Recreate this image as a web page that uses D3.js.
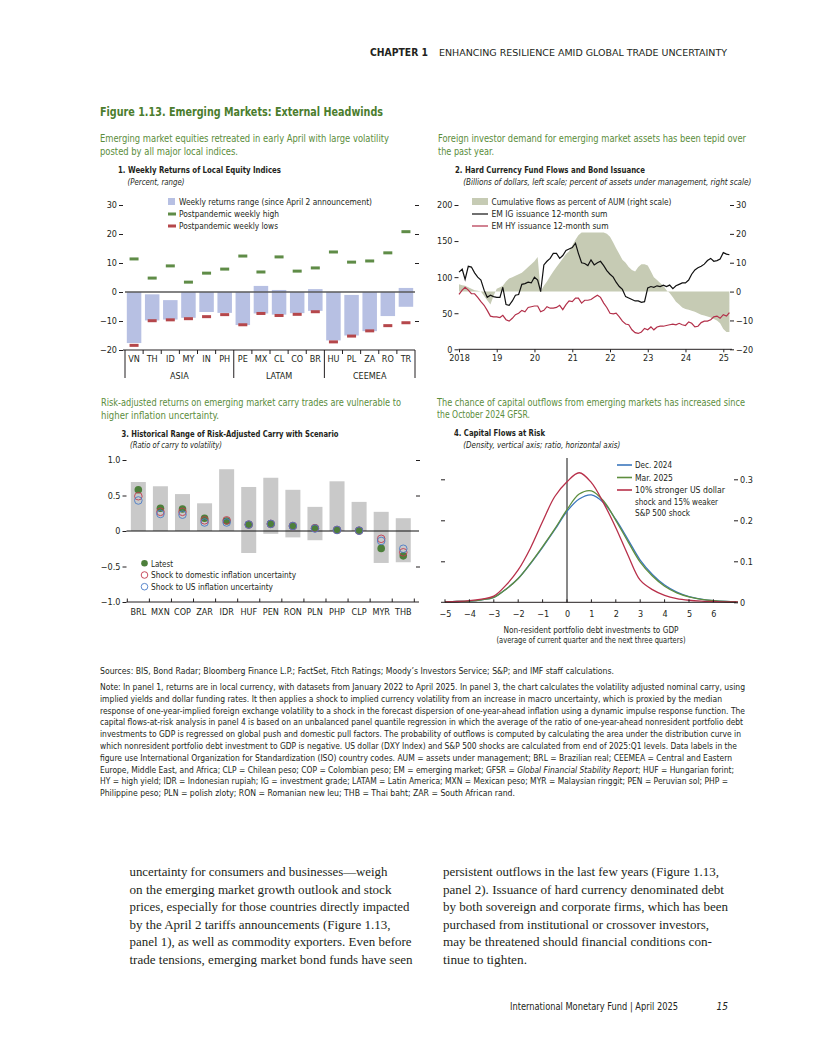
<!DOCTYPE html>
<html>
<head>
<meta charset="utf-8">
<script src="https://cdn.jsdelivr.net/npm/d3@7"></script>
<style>
body { margin: 0; background: #fff; }
svg { display: block; }
</style>
</head>
<body>
<svg width="816" height="1056"></svg>
<script>
// ---------- data ----------
// panel 1
const p1Countries = ['VN', 'TH', 'ID', 'MY', 'IN', 'PH', 'PE', 'MX', 'CL', 'CO', 'BR', 'HU', 'PL', 'ZA', 'RO', 'TR'];
const p1Groups = ['ASIA', 'LATAM', 'CEEMEA'];
const p1GroupSize = [6, 5, 5];
const p1RangeTop = [0, -0.8, -2.8, 0, 0, 0, 0, 2.1, 0.7, 0, 1.0, 0, -1.0, 0, 0, 1.4];
const p1RangeBottom = [-17.6, -9.8, -9.5, -8.9, -6.9, -7.2, -11.4, -7.4, -7.8, -7.3, -6.5, -16.7, -15.0, -13.5, -8.3, -5.1];
const p1High = [11.4, 4.8, 9.0, 3.4, 6.5, 7.9, 12.4, 6.9, 12.1, 7.2, 8.3, 13.8, 10.3, 10.7, 13.5, 20.8];
const p1Low = [-18.4, -9.9, -9.6, -9.2, -8.5, -7.8, -11.3, -7.4, -8.1, -7.7, -6.8, -17.2, -15.2, -13.4, -11.6, -10.6];
const p1Ticks = [-20, -10, 0, 10, 20, 30];

// panel 2 (monthly, Jan 2018 - Mar 2025)
const p2Start = new Date(2018, 0, 1);
const p2IG = [
    107, 111, 97, 115, 114, 106, 100, 96, 82, 72, 75, 73,
    72, 72, 86, 62, 61, 67, 75, 76, 90, 91, 93, 92,
    100, 96, 80, 117, 122, 126, 133, 133, 126, 130, 137, 139,
    141, 147, 133, 120, 119, 116, 124, 117, 120, 122, 116, 109,
    104, 100, 93, 87, 83, 73, 71, 69, 67, 67, 65, 66,
    85, 87, 86, 88, 87, 89, 87, 89, 84, 88, 90, 92,
    92, 96, 104, 110, 113, 115, 118, 123, 126, 122, 123, 125,
    134, 132, 131
];
const p2HY = [
    76, 82, 86, 82, 77, 77, 72, 66, 61, 54, 46, 45,
    45, 44, 47, 41, 39, 43, 48, 50, 54, 52, 58, 59,
    60, 60, 52, 54, 59, 57, 57, 58, 61, 55, 62, 67,
    66, 71, 71, 64, 68, 68, 69, 72, 75, 72, 64, 58,
    50, 49, 50, 45, 39, 35, 34, 27, 23, 22, 24, 29,
    27, 31, 27, 31, 32, 32, 33, 34, 35, 34, 36, 34,
    33, 38, 36, 31, 32, 37, 39, 39, 41, 45, 46, 43,
    48, 46, 51
];
const p2Flows = [
    2.5, 2.2, 2.0, 1.5, 1.0, 0.5, 0.3, 0, -1.5, -3, -4.5, -1.5,
    1, 1.5, 2, 3.5, 4.5, 5, 5.5, 6, 6.5, 7.5, 8.5, 9.5,
    10.5, 12, 0, 2, 3.5, 5.3, 7, 8.5, 10, 11.5, 13, 14,
    16, 18, 19.5, 20.5, 20.5, 20.5, 20.5, 20.5, 20.5, 20.5, 20.5, 20,
    19, 17, 15, 13, 11, 10, 8.5, 7.5, 7, 8.5, 9.5, 9.5,
    9, 7, 5, 4, 3, 2, 0.5, -0.5, -2, -3.5, -4.5, -5.5,
    -6, -6.3, -6.6, -7, -7.5, -8, -8.3, -8.6, -9, -9.5, -10, -11,
    -13, -14, -14
];
const p2YearLabels = ['2018', '19', '20', '21', '22', '23', '24', '25'];
const p2LeftTicks = [0, 50, 100, 150, 200];
const p2RightTicks = [-20, -10, 0, 10, 20, 30];

// panel 3
const p3Currencies = ['BRL', 'MXN', 'COP', 'ZAR', 'IDR', 'HUF', 'PEN', 'RON', 'PLN', 'PHP', 'CLP', 'MYR', 'THB'];
const p3RangeTop = [0.69, 0.63, 0.52, 0.39, 0.87, 0.62, 0.75, 0.58, 0.34, 0.70, 0.41, 0.27, 0.18];
const p3RangeBottom = [0, 0, 0, 0, 0, -0.31, -0.04, -0.09, -0.13, 0, 0, -0.45, -0.44];
const p3Latest = [0.58, 0.32, 0.31, 0.18, 0.14, 0.09, 0.10, 0.07, 0.04, 0.015, 0.005, -0.245, -0.35];
const p3Domestic = [0.49, 0.27, 0.27, 0.15, 0.15, 0.09, 0.10, 0.07, 0.04, 0.015, 0.005, -0.11, -0.30];
const p3US = [0.43, 0.24, 0.23, 0.12, 0.12, 0.09, 0.10, 0.07, 0.035, 0.015, 0.005, -0.14, -0.25];
const p3Ticks = [-1, -0.5, 0, 0.5, 1];

// panel 4
const p4X = [-5, -4.5, -4, -3.5, -3, -2.5, -2, -1.5, -1, -0.5, 0, 0.5, 1, 1.5, 2, 2.5, 3, 3.5, 4, 4.5, 5, 5.5, 6, 6.5, 7];
const p4Dec24 = [0.001, 0.002, 0.003, 0.006, 0.012, 0.032, 0.058, 0.094, 0.134, 0.177, 0.222, 0.252, 0.262, 0.243, 0.202, 0.153, 0.103, 0.068, 0.042, 0.025, 0.014, 0.008, 0.004, 0.002, 0.001];
const p4Mar25 = [0.001, 0.002, 0.003, 0.006, 0.012, 0.032, 0.058, 0.095, 0.136, 0.179, 0.226, 0.264, 0.272, 0.247, 0.200, 0.148, 0.098, 0.064, 0.039, 0.023, 0.013, 0.007, 0.004, 0.002, 0.001];
const p4Shock = [0.001, 0.002, 0.004, 0.008, 0.015, 0.042, 0.079, 0.132, 0.197, 0.258, 0.294, 0.316, 0.292, 0.242, 0.182, 0.115, 0.054, 0.031, 0.017, 0.009, 0.005, 0.003, 0.002, 0.001, 0.001];
const p4XTicks = [-5, -4, -3, -2, -1, 0, 1, 2, 3, 4, 5, 6];
const p4YTicks = [0, 0.1, 0.2, 0.3];

// ---------- styles ----------
const COND = "'Liberation Sans Narrow', 'DejaVu Sans Condensed', 'Roboto Condensed', 'Liberation Sans', sans-serif";
const SERIF = "'Liberation Serif', 'DejaVu Serif', serif";
const INK = '#231f20';
const GREEN_T = '#4b7d2d';
const GREEN_S = '#5b8d3c';

const svg = d3.select('svg');
const minus = (s) => String(s).replace('-', '\u2212');

function txt(g, x, y, s, o = {}) {
    const t = g.append('text')
        .attr('x', x)
        .attr('y', y)
        .attr('font-family', o.family || COND)
        .attr('font-size', o.size || 9)
        .attr('fill', o.fill || INK)
        .text(s);
    if (o.weight) t.attr('font-weight', o.weight);
    if (o.italic) t.attr('font-style', 'italic');
    if (o.anchor) t.attr('text-anchor', o.anchor);
    if (o.len) t.attr('textLength', o.len).attr('lengthAdjust', 'spacingAndGlyphs');
    return t;
}

function styleAxis(g, size) {
    g.select('.domain').remove();
    g.selectAll('text').attr('font-family', COND).attr('font-size', size || 9).attr('fill', INK);
    g.selectAll('line').attr('stroke', INK);
}

// ---------- page header ----------
txt(svg, 370, 56, 'CHAPTER 1', { size: 10.5, weight: 'bold', len: 58 });
txt(svg, 439, 56, 'ENHANCING RESILIENCE AMID GLOBAL TRADE UNCERTAINTY', { size: 9.5, len: 288 });

txt(svg, 100, 115.5, 'Figure 1.13. Emerging Markets: External Headwinds', { size: 12.5, weight: 'bold', fill: GREEN_T, len: 283 });

txt(svg, 100, 141.5, 'Emerging market equities retreated in early April with large volatility', { size: 10, fill: GREEN_S, len: 289 });
txt(svg, 100, 154.5, 'posted by all major local indices.', { size: 10, fill: GREEN_S, len: 138 });
txt(svg, 438, 141.5, 'Foreign investor demand for emerging market assets has been tepid over', { size: 10, fill: GREEN_S, len: 308 });
txt(svg, 438, 154.5, 'the past year.', { size: 10, fill: GREEN_S, len: 56 });
txt(svg, 101, 406, 'Risk-adjusted returns on emerging market carry trades are vulnerable to', { size: 10, fill: GREEN_S, len: 300 });
txt(svg, 101, 418.5, 'higher inflation uncertainty.', { size: 10, fill: GREEN_S, len: 118 });
txt(svg, 437, 405.5, 'The chance of capital outflows from emerging markets has increased since', { size: 10, fill: GREEN_S, len: 308 });
txt(svg, 437, 418, 'the October 2024 GFSR.', { size: 10, fill: GREEN_S, len: 93 });

// ---------- panel 1 ----------
{
    const g = svg.append('g');
    txt(g, 118, 173, '1. Weekly Returns of Local Equity Indices', { size: 9.2, weight: 'bold', len: 163 });
    txt(g, 127.5, 185, '(Percent, range)', { size: 8.6, italic: true, len: 57 });

    const x = d3.scaleBand().domain(p1Countries).range([125, 415]).paddingInner(0.2).paddingOuter(0.1);
    const y = d3.scaleLinear().domain([-20, 30]).range([350, 205]);
    const step = x.step();

    g.append('g').selectAll('rect')
        .data(p1Countries)
        .join('rect')
        .attr('x', (d) => x(d))
        .attr('width', x.bandwidth())
        .attr('y', (d, i) => y(p1RangeTop[i]))
        .attr('height', (d, i) => y(p1RangeBottom[i]) - y(p1RangeTop[i]))
        .attr('fill', '#b7c0e3');

    g.append('line')
        .attr('x1', 125).attr('x2', 415)
        .attr('y1', y(0)).attr('y2', y(0))
        .attr('stroke', '#5a5a5a').attr('stroke-width', 1.6);

    g.append('g').selectAll('rect')
        .data(p1Countries)
        .join('rect')
        .attr('x', (d) => x(d) + x.bandwidth() / 2 - 4.5)
        .attr('width', 9)
        .attr('y', (d, i) => y(p1High[i]) - 1.5)
        .attr('height', 3)
        .attr('fill', '#5f8c47');

    g.append('g').selectAll('rect')
        .data(p1Countries)
        .join('rect')
        .attr('x', (d) => x(d) + x.bandwidth() / 2 - 4.5)
        .attr('width', 9)
        .attr('y', (d, i) => y(p1Low[i]) - 1.5)
        .attr('height', 3)
        .attr('fill', '#b5474b');

    const ax = g.append('g')
        .attr('transform', 'translate(123,0)')
        .call(d3.axisLeft(y).tickValues(p1Ticks).tickSize(4).tickPadding(2).tickFormat(minus));
    styleAxis(ax);

    const axr = g.append('g')
        .attr('transform', 'translate(415,0)')
        .call(d3.axisRight(y).tickValues([-10, 10, 20, 30]).tickSize(4).tickFormat(''));
    styleAxis(axr);

    g.append('line')
        .attr('x1', 123).attr('x2', 415)
        .attr('y1', y(-20)).attr('y2', y(-20))
        .attr('stroke', INK);

    // category separators and group separators
    const bounds = d3.range(p1Countries.length + 1);
    const groupBounds = [0];
    p1GroupSize.forEach((n) => groupBounds.push(groupBounds[groupBounds.length - 1] + n));
    g.append('g').selectAll('line')
        .data(bounds)
        .join('line')
        .attr('x1', (i) => 125 + i * step).attr('x2', (i) => 125 + i * step)
        .attr('y1', y(-20))
        .attr('y2', (i) => (groupBounds.includes(i) ? 378 : y(-20) + 4))
        .attr('stroke', INK);

    const axb = g.append('g')
        .attr('transform', `translate(0,${y(-20)})`)
        .call(d3.axisBottom(x).tickSize(0).tickPadding(6));
    styleAxis(axb);

    p1Groups.forEach((name, k) => {
        const cx = 125 + ((groupBounds[k] + groupBounds[k + 1]) / 2) * step;
        txt(g, cx, 378.5, name, { size: 9, anchor: 'middle' });
    });

    // legend
    const lg = g.append('g');
    lg.append('rect').attr('x', 168).attr('y', 198).attr('width', 7).attr('height', 7).attr('fill', '#b7c0e3');
    lg.append('rect').attr('x', 168).attr('y', 212.5).attr('width', 8).attr('height', 3).attr('fill', '#5f8c47');
    lg.append('rect').attr('x', 168).attr('y', 224.5).attr('width', 8).attr('height', 3).attr('fill', '#b5474b');
    txt(lg, 179, 205, 'Weekly returns range (since April 2 announcement)', { size: 8.6, len: 193 });
    txt(lg, 179, 217, 'Postpandemic weekly high', { size: 8.6, len: 100 });
    txt(lg, 179, 229, 'Postpandemic weekly lows', { size: 8.6, len: 99 });
}

// ---------- panel 2 ----------
{
    const g = svg.append('g');
    txt(g, 455, 173, '2. Hard Currency Fund Flows and Bond Issuance', { size: 9.2, weight: 'bold', len: 190 });
    txt(g, 463.3, 185, '(Billions of dollars, left scale; percent of assets under management, right scale)', { size: 8.6, italic: true, len: 288 });

    const x = d3.scaleTime().domain([new Date(2018, 0, 1), new Date(2025, 0, 1)]).range([459, 723.3]);
    const yL = d3.scaleLinear().domain([0, 200]).range([349.3, 205]);
    const yR = d3.scaleLinear().domain([-20, 30]).range([349.3, 205]);
    const dates = p2IG.map((d, i) => d3.timeMonth.offset(p2Start, i));

    g.append('path')
        .datum(p2Flows)
        .attr('fill', '#c6cbb4')
        .attr('d', d3.area().x((d, i) => x(dates[i])).y0(yR(0)).y1((d) => yR(d)));

    g.append('path')
        .datum(p2HY)
        .attr('fill', 'none').attr('stroke', '#b3304a').attr('stroke-width', 1.2)
        .attr('d', d3.line().x((d, i) => x(dates[i])).y((d) => yL(d)));

    g.append('path')
        .datum(p2IG)
        .attr('fill', 'none').attr('stroke', '#111').attr('stroke-width', 1.2)
        .attr('d', d3.line().x((d, i) => x(dates[i])).y((d) => yL(d)));

    const al = g.append('g')
        .attr('transform', 'translate(458.5,0)')
        .call(d3.axisLeft(yL).tickValues(p2LeftTicks).tickSize(4).tickPadding(2));
    styleAxis(al);

    const ar = g.append('g')
        .attr('transform', 'translate(730,0)')
        .call(d3.axisRight(yR).tickValues(p2RightTicks).tickSize(4).tickPadding(2).tickFormat(minus));
    styleAxis(ar);

    g.append('line')
        .attr('x1', 458.5).attr('x2', 732)
        .attr('y1', yL(0)).attr('y2', yL(0))
        .attr('stroke', INK);

    const years = p2YearLabels.map((d, i) => new Date(2018 + i, 0, 1));
    const ab = g.append('g')
        .attr('transform', `translate(0,${yL(0)})`)
        .call(d3.axisBottom(x).tickValues(years).tickSize(3).tickPadding(2).tickFormat((d, i) => p2YearLabels[i]));
    styleAxis(ab);

    // legend
    const lg = g.append('g');
    lg.append('rect').attr('x', 472).attr('y', 198).attr('width', 16).attr('height', 7).attr('fill', '#c6cbb4');
    lg.append('line').attr('x1', 472).attr('x2', 488).attr('y1', 214).attr('y2', 214).attr('stroke', '#111').attr('stroke-width', 1.2);
    lg.append('line').attr('x1', 472).attr('x2', 488).attr('y1', 226).attr('y2', 226).attr('stroke', '#b3304a').attr('stroke-width', 1.2);
    txt(lg, 491.5, 205, 'Cumulative flows as percent of AUM (right scale)', { size: 8.6, len: 180 });
    txt(lg, 491.5, 217, 'EM IG issuance 12-month sum', { size: 8.6, len: 116 });
    txt(lg, 491.5, 229, 'EM HY issuance 12-month sum', { size: 8.6, len: 117 });
}

// ---------- panel 3 ----------
{
    const g = svg.append('g');
    txt(g, 121.5, 436.5, '3. Historical Range of Risk-Adjusted Carry with Scenario', { size: 9.2, weight: 'bold', len: 217 });
    txt(g, 130, 448, '(Ratio of carry to volatility)', { size: 8.6, italic: true, len: 92 });

    const x = d3.scaleBand().domain(p3Currencies).range([127.3, 414.3]).paddingInner(0.32).paddingOuter(0.16);
    const y = d3.scaleLinear().domain([-1, 1]).range([602, 460]);
    const step = x.step();
    const cx = (d) => x(d) + x.bandwidth() / 2;

    g.append('g').selectAll('rect')
        .data(p3Currencies)
        .join('rect')
        .attr('x', (d) => x(d))
        .attr('width', x.bandwidth())
        .attr('y', (d, i) => y(p3RangeTop[i]))
        .attr('height', (d, i) => y(p3RangeBottom[i]) - y(p3RangeTop[i]))
        .attr('fill', '#c9c9c9');

    g.append('line')
        .attr('x1', 126.5).attr('x2', 419)
        .attr('y1', y(0)).attr('y2', y(0))
        .attr('stroke', '#111').attr('stroke-width', 1.1);

    g.append('g').selectAll('circle')
        .data(p3Currencies)
        .join('circle')
        .attr('cx', cx).attr('cy', (d, i) => y(p3Latest[i])).attr('r', 3.8)
        .attr('fill', '#4d7f3b');
    g.append('g').selectAll('circle')
        .data(p3Currencies)
        .join('circle')
        .attr('cx', cx).attr('cy', (d, i) => y(p3Domestic[i])).attr('r', 3.8)
        .attr('fill', 'none').attr('stroke', '#c23a4e').attr('stroke-width', 0.9);
    g.append('g').selectAll('circle')
        .data(p3Currencies)
        .join('circle')
        .attr('cx', cx).attr('cy', (d, i) => y(p3US[i])).attr('r', 3.8)
        .attr('fill', 'none').attr('stroke', '#4a7cc6').attr('stroke-width', 0.9);

    const fmt = (d) => (d === 0 ? '0' : minus(d3.format('.1f')(d)));
    const al = g.append('g')
        .attr('transform', 'translate(126.5,0)')
        .call(d3.axisLeft(y).tickValues(p3Ticks).tickSize(4).tickPadding(2).tickFormat(fmt));
    styleAxis(al);

    const ar = g.append('g')
        .attr('transform', 'translate(416,0)')
        .call(d3.axisRight(y).tickValues([-0.5, 0.5, 1]).tickSize(4).tickFormat(''));
    styleAxis(ar);

    g.append('line')
        .attr('x1', 126.5).attr('x2', 419)
        .attr('y1', y(-1)).attr('y2', y(-1))
        .attr('stroke', INK);

    g.append('g').selectAll('line')
        .data(d3.range(p3Currencies.length + 1))
        .join('line')
        .attr('x1', (i) => 127.3 + i * step).attr('x2', (i) => 127.3 + i * step)
        .attr('y1', y(-1)).attr('y2', y(-1) - 3.5)
        .attr('stroke', INK);

    const ab = g.append('g')
        .attr('transform', `translate(0,${y(-1)})`)
        .call(d3.axisBottom(x).tickSize(0).tickPadding(6.5));
    styleAxis(ab);

    // legend
    const lg = g.append('g');
    lg.append('circle').attr('cx', 144.5).attr('cy', 563.3).attr('r', 3.3).attr('fill', '#4d7f3b');
    lg.append('circle').attr('cx', 144.5).attr('cy', 575).attr('r', 3.3).attr('fill', 'none').attr('stroke', '#c23a4e').attr('stroke-width', 0.9);
    lg.append('circle').attr('cx', 144.5).attr('cy', 586.7).attr('r', 3.3).attr('fill', 'none').attr('stroke', '#4a7cc6').attr('stroke-width', 0.9);
    txt(lg, 151, 566.5, 'Latest', { size: 8.6, len: 22 });
    txt(lg, 151, 578.2, 'Shock to domestic inflation uncertainty', { size: 8.6, len: 145 });
    txt(lg, 151, 590, 'Shock to US inflation uncertainty', { size: 8.6, len: 122 });
}

// ---------- panel 4 ----------
{
    const g = svg.append('g');
    txt(g, 454, 436, '4. Capital Flows at Risk', { size: 9.2, weight: 'bold', len: 91 });
    txt(g, 463.3, 447.5, '(Density, vertical axis; ratio, horizontal axis)', { size: 8.6, italic: true, len: 157 });

    const x = d3.scaleLinear().domain([-5, 7]).range([445, 737.8]);
    const y = d3.scaleLinear().domain([0, 0.3]).range([602.3, 479.3]);

    g.append('line')
        .attr('x1', x(0)).attr('x2', x(0))
        .attr('y1', y(0)).attr('y2', 458)
        .attr('stroke', '#111').attr('stroke-width', 1);

    const line = d3.line().x((d, i) => x(p4X[i])).y((d) => y(d)).curve(d3.curveCatmullRom.alpha(0.5));
    const series = [
        { v: p4Dec24, c: '#3b76bd' },
        { v: p4Mar25, c: '#5e8e3e' },
        { v: p4Shock, c: '#b8304a' }
    ];
    g.append('g').selectAll('path')
        .data(series)
        .join('path')
        .attr('fill', 'none')
        .attr('stroke', (d) => d.c)
        .attr('stroke-width', 1.3)
        .attr('d', (d) => line(d.v));

    const al = g.append('g')
        .attr('transform', 'translate(445,0)')
        .call(d3.axisLeft(y).tickValues([0.1, 0.2, 0.3]).tickSize(4).tickFormat(''));
    styleAxis(al);

    const ar = g.append('g')
        .attr('transform', 'translate(734,0)')
        .call(d3.axisRight(y).tickValues(p4YTicks).tickSize(4).tickPadding(2).tickFormat((d) => (d === 0 ? '0' : d3.format('.1f')(d))));
    styleAxis(ar);

    g.append('line')
        .attr('x1', 441).attr('x2', 736)
        .attr('y1', y(0)).attr('y2', y(0))
        .attr('stroke', INK);

    g.append('g').selectAll('line')
        .data(p4XTicks)
        .join('line')
        .attr('x1', (d) => x(d)).attr('x2', (d) => x(d))
        .attr('y1', y(0)).attr('y2', y(0) - 3)
        .attr('stroke', INK);

    const ab = g.append('g')
        .attr('transform', `translate(0,${y(0)})`)
        .call(d3.axisBottom(x).tickValues(p4XTicks).tickSize(0).tickPadding(8).tickFormat(minus));
    styleAxis(ab);

    txt(g, 591, 632.5, 'Non-resident portfolio debt investments to GDP', { size: 8.8, anchor: 'middle', len: 175 });
    txt(g, 591, 643, '(average of current quarter and the next three quarters)', { size: 8.8, anchor: 'middle', len: 189 });

    // legend
    const lg = g.append('g');
    const items = ['Dec. 2024', 'Mar. 2025', '10% stronger US dollar'];
    const ly = [465, 477.5, 490];
    series.forEach((s, i) => {
        lg.append('line').attr('x1', 617).attr('x2', 632).attr('y1', ly[i]).attr('y2', ly[i])
            .attr('stroke', s.c).attr('stroke-width', 1.6);
    });
    txt(lg, 635, 468.2, items[0], { size: 8.8, len: 37 });
    txt(lg, 635, 480.7, items[1], { size: 8.8, len: 38 });
    txt(lg, 635, 493.2, items[2], { size: 8.8, len: 90 });
    txt(lg, 635, 504.7, 'shock and 15% weaker', { size: 8.8, len: 83 });
    txt(lg, 635, 516.2, 'S&P 500 shock', { size: 8.8, len: 55 });
}

// ---------- sources and notes ----------
{
    const g = svg.append('g');
    txt(g, 100, 674, 'Sources: BIS, Bond Radar; Bloomberg Finance L.P.; FactSet, Fitch Ratings; Moody\u2019s Investors Service; S&P; and IMF staff calculations.', { size: 8.3, len: 514 });
    const notes = [
        ['Note: In panel 1, returns are in local currency, with datasets from January 2022 to April 2025. In panel 3, the chart calculates the volatility adjusted nominal carry, using', 645],
        ['implied yields and dollar funding rates. It then applies a shock to implied currency volatility from an increase in macro uncertainty, which is proxied by the median', 622],
        ['response of one-year-implied foreign exchange volatility to a shock in the forecast dispersion of one-year-ahead inflation using a dynamic impulse response function. The', 645],
        ['capital flows-at-risk analysis in panel 4 is based on an unbalanced panel quantile regression in which the average of the ratio of one-year-ahead nonresident portfolio debt', 643],
        ['investments to GDP is regressed on global push and domestic pull factors. The probability of outflows is computed by calculating the area under the distribution curve in', 641],
        ['which nonresident portfolio debt investment to GDP is negative. US dollar (DXY Index) and S&P 500 shocks are calculated from end of 2025:Q1 levels. Data labels in the', 637],
        ['figure use International Organization for Standardization (ISO) country codes. AUM = assets under management; BRL = Brazilian real; CEEMEA = Central and Eastern', 632],
        [null, 634],
        ['HY = high yield; IDR = Indonesian rupiah; IG = investment grade; LATAM = Latin America; MXN = Mexican peso; MYR = Malaysian ringgit; PEN = Peruvian sol; PHP =', 628],
        ['Philippine peso; PLN = polish zloty; RON = Romanian new leu; THB = Thai baht; ZAR = South African rand.', 415]
    ];
    notes.forEach(([s, len], i) => {
        const yy = 690 + i * 11.8;
        if (s) {
            txt(g, 100, yy, s, { size: 8.3, len });
        } else {
            const t = txt(g, 100, yy, '', { size: 8.3, len });
            t.append('tspan').text('Europe, Middle East, and Africa; CLP = Chilean peso; COP = Colombian peso; EM = emerging market; GFSR = ');
            t.append('tspan').attr('font-style', 'italic').text('Global Financial Stability Report');
            t.append('tspan').text('; HUF = Hungarian forint;');
        }
    });
}

// ---------- body text ----------
{
    const g = svg.append('g');
    const left = [
        ['uncertainty for consumers and businesses\u2014weigh', 258],
        ['on the emerging market growth outlook and stock', 262],
        ['prices, especially for those countries directly impacted', 280],
        ['by the April 2 tariffs announcements (Figure 1.13,', 261],
        ['panel 1), as well as commodity exporters. Even before', 282],
        ['trade tensions, emerging market bond funds have seen', 283]
    ];
    const right = [
        ['persistent outflows in the last few years (Figure 1.13,', 276],
        ['panel 2). Issuance of hard currency denominated debt', 281],
        ['by both sovereign and corporate firms, which has been', 285],
        ['purchased from institutional or crossover investors,', 266],
        ['may be threatened should financial conditions con-', 269],
        ['tinue to tighten.', 84]
    ];
    left.forEach(([s, len], i) => txt(g, 129.5, 876 + i * 17.6, s, { family: SERIF, size: 13, len }));
    right.forEach(([s, len], i) => txt(g, 443, 876 + i * 17.6, s, { family: SERIF, size: 13, len }));

    txt(g, 510, 1010, 'International Monetary Fund | April 2025', { size: 10, len: 168 });
    txt(g, 728, 1010, '15', { size: 10, italic: true, anchor: 'end' });
}
</script>
</body>
</html>
